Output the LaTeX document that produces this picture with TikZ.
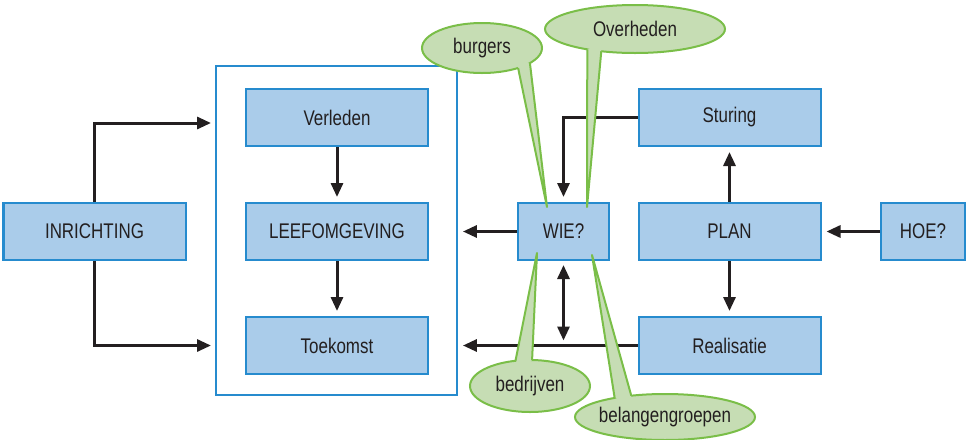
\documentclass[tikz,border=0pt]{standalone}
\usepackage{fontspec}
\setmainfont[FakeStretch=0.8]{Liberation Sans}
\usetikzlibrary{arrows.meta,calc}
\definecolor{vakblauw}{RGB}{170,204,234}
\definecolor{randblauw}{RGB}{38,139,206}
\definecolor{wolkgroen}{RGB}{198,221,180}
\definecolor{randgroen}{RGB}{122,190,72}
\definecolor{tekst}{RGB}{35,31,32}
\begin{document}
\begin{tikzpicture}
  [x=0.5pt,y=-0.5pt,
   every node/.style={font=\fontsize{10.6}{12}\selectfont, text=tekst},
   vak/.style={rectangle, draw=randblauw, fill=vakblauw, line width=1pt,
     minimum width=91pt, minimum height=28.5pt, inner sep=0pt},
   pijl/.style={-{Triangle[length=7pt,width=6pt]}, line width=1.5pt, tekst, shorten >=2.5pt},
   wolk/.style={fill=wolkgroen, draw=randgroen, line width=1pt},
   staart/.style={draw=randgroen, line width=1pt, line join=round}]
  \useasboundingbox (0,0) rectangle (966,440);

  \node[rectangle, draw=randblauw, line width=0.9pt, minimum width=120.5pt,
    minimum height=164.5pt] (kader) at (336.5,230.5) {};

  \node[vak] (inrichting) at (94.5,231.5) {INRICHTING};
  \node[vak] (verleden) at (337,117.5) {Verleden};
  \node[vak] (leefomgeving) at (337,231.5) {LEEFOMGEVING};
  \node[vak] (toekomst) at (337,345.5) {Toekomst};
  \node[vak, minimum width=45.5pt] (wie) at (563.5,231.5) {WIE?};
  \node[vak] (sturing) at (729.5,117.5) {Sturing};
  \node[vak] (plan) at (729.5,231.5) {PLAN};
  \node[vak] (realisatie) at (729.5,345.5) {Realisatie};
  \node[vak, minimum width=42pt] (hoe) at (923,231.5) {HOE?};

  \coordinate (boven) at (216,123);
  \coordinate (onder) at (216,345.5);

  \draw[pijl] (inrichting.north) |- (boven);
  \draw[pijl] (inrichting.south) |- (onder);
  \draw[pijl] (verleden) -- (leefomgeving);
  \draw[pijl] (leefomgeving) -- (toekomst);
  \draw[pijl] (wie.west) -- (wie.west -| kader.east);
  \draw[pijl] (realisatie.west) -- (realisatie.west -| kader.east);
  \draw[pijl] (sturing.west) -| (wie.north);
  \draw[pijl, {Triangle[length=7pt,width=6pt]}-{Triangle[length=7pt,width=6pt]}, shorten <=2pt, shorten >=2.5pt]
    (wie.south) -- (wie.south |- realisatie.west);
  \draw[pijl] (plan) -- (sturing);
  \draw[pijl] (plan) -- (realisatie);
  \draw[pijl] (hoe) -- (plan);

  % burgers
  \coordinate (cb) at (482,48);
  \coordinate (pb) at (547,207);
  \path[wolk] (cb) ellipse (60 and 25);
  \fill[wolkgroen] ($(cb)+(37:60 and 25)$) -- (pb) -- ($(cb)+(53:60 and 25)$) -- ($(cb)+(45:48 and 18)$) -- cycle;
  \draw[staart] ($(cb)+(37:60 and 25)$) -- (pb) -- ($(cb)+(53:60 and 25)$);
  \node (burgers) at (cb) {burgers};

  % Overheden
  \coordinate (co) at (635,29);
  \coordinate (po) at (587,207);
  \path[wolk] (co) ellipse (90 and 24);
  \fill[wolkgroen] ($(co)+(112:90 and 24)$) -- (po) -- ($(co)+(122:90 and 24)$) -- ($(co)+(117:75 and 16)$) -- cycle;
  \draw[staart] ($(co)+(112:90 and 24)$) -- (po) -- ($(co)+(122:90 and 24)$);
  \node (overheden) at (co) {Overheden};

  % bedrijven
  \coordinate (cd) at (530,386);
  \coordinate (pd) at (537,253);
  \path[wolk] (cd) ellipse (60 and 26);
  \fill[wolkgroen] ($(cd)+(-104:60 and 26)$) -- (pd) -- ($(cd)+(-88:60 and 26)$) -- ($(cd)+(-96:48 and 18)$) -- cycle;
  \draw[staart] ($(cd)+(-104:60 and 26)$) -- (pd) -- ($(cd)+(-88:60 and 26)$);
  \node (bedrijven) at (cd) {bedrijven};

  % belangengroepen
  \coordinate (cg) at (665,417);
  \coordinate (pg) at (592,255);
  \path[wolk] (cg) ellipse (90 and 23);
  \fill[wolkgroen] ($(cg)+(-124:90 and 23)$) -- (pg) -- ($(cg)+(-112:90 and 23)$) -- ($(cg)+(-118:75 and 15)$) -- cycle;
  \draw[staart] ($(cg)+(-124:90 and 23)$) -- (pg) -- ($(cg)+(-112:90 and 23)$);
  \node (belangengroepen) at (cg) {belangengroepen};
\end{tikzpicture}
\end{document}
